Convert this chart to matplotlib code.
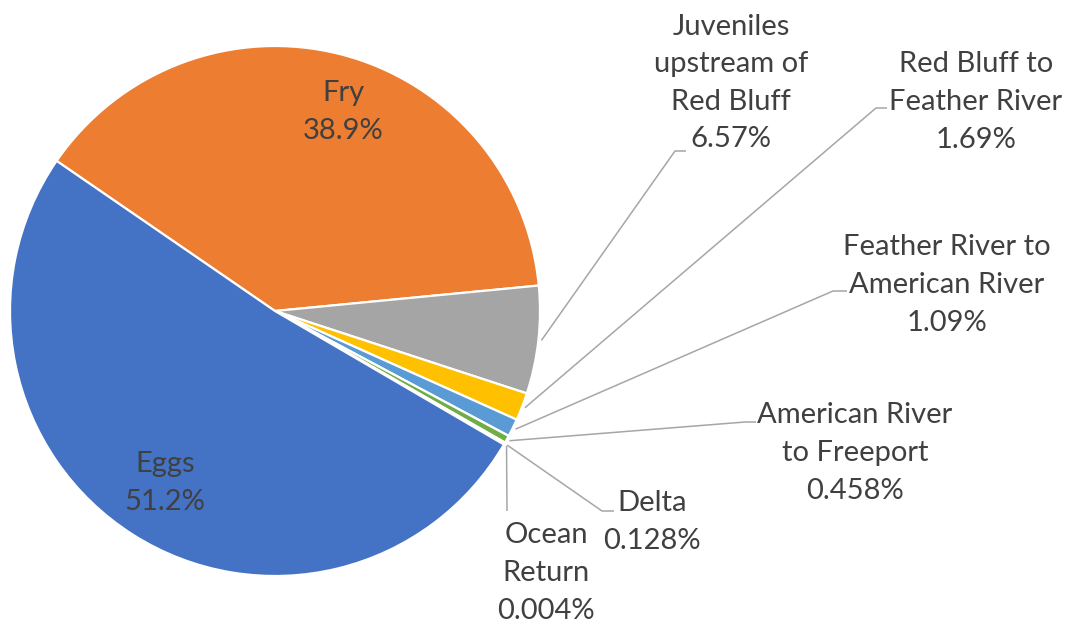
import numpy as np
import matplotlib
matplotlib.use("Agg")
import matplotlib.pyplot as plt

# Werte aus dem Diagramm (Reihenfolge im Uhrzeigersinn ab Fry)
namen = ['Fry', 'Juveniles\nupstream of\nRed Bluff', 'Red Bluff to\nFeather River',
         'Feather River to\nAmerican River', 'American River\nto Freeport', 'Delta',
         'Ocean\nReturn', 'Eggs']
werte = [38.9, 6.57, 1.69, 1.09, 0.458, 0.128, 0.004, 51.2]
farben = ['#ED7D31', '#A5A5A5', '#FFC000', '#5B9BD5', '#70AD47', '#264478',
          '#9E480E', '#4472C4']

# Layout in Pixeln (y von oben gezaehlt, wird unten umgerechnet)
W, H = 1066, 623
cx, cy, r = 275, 311, 265
lab_pos = [(343, 112), (731, 83), (976, 102), (947, 285), (855, 453),
           (652, 522), (546, 573), (165, 483)]
knick = [None, (675, 151), (876, 108), (833, 291), (745, 422),
         (602, 511), (507, 511), None]
stummel = [None, (686, 151), (887, 108), (847, 291), (756, 422),
           (614, 511), None, None]

fig = plt.figure(figsize=(W / 100, H / 100), dpi=100)
ax = fig.add_axes([0, 0, 1, 1])

wedges, _ = ax.pie(werte, colors=farben, startangle=145.5, counterclock=False,
                   center=(cx, H - cy), radius=r,
                   wedgeprops=dict(edgecolor='white', linewidth=1.6))
ax.set_xlim(0, W)
ax.set_ylim(0, H)
ax.set_aspect('equal')
ax.axis('off')

schrift = dict(fontsize=21, color='#404040', family='Lato',
               ha='center', va='center', multialignment='center', linespacing=1.55)

for i, w in enumerate(wedges):
    text = f"{namen[i]}\n{werte[i]:g}%"
    ax.text(lab_pos[i][0], H - lab_pos[i][1], text, **schrift)
    if knick[i] is None:
        continue
    mitte = np.deg2rad((w.theta1 + w.theta2) / 2)
    x0 = cx + (r + 3) * np.cos(mitte)
    y0 = (H - cy) + (r + 3) * np.sin(mitte)
    xs = [x0, knick[i][0]]
    ys = [y0, H - knick[i][1]]
    if stummel[i] is not None:
        xs.append(stummel[i][0])
        ys.append(H - stummel[i][1])
    ax.plot(xs, ys, color='#A6A6A6', lw=1.1, solid_capstyle='butt')

plt.savefig("out.png", dpi=100)
